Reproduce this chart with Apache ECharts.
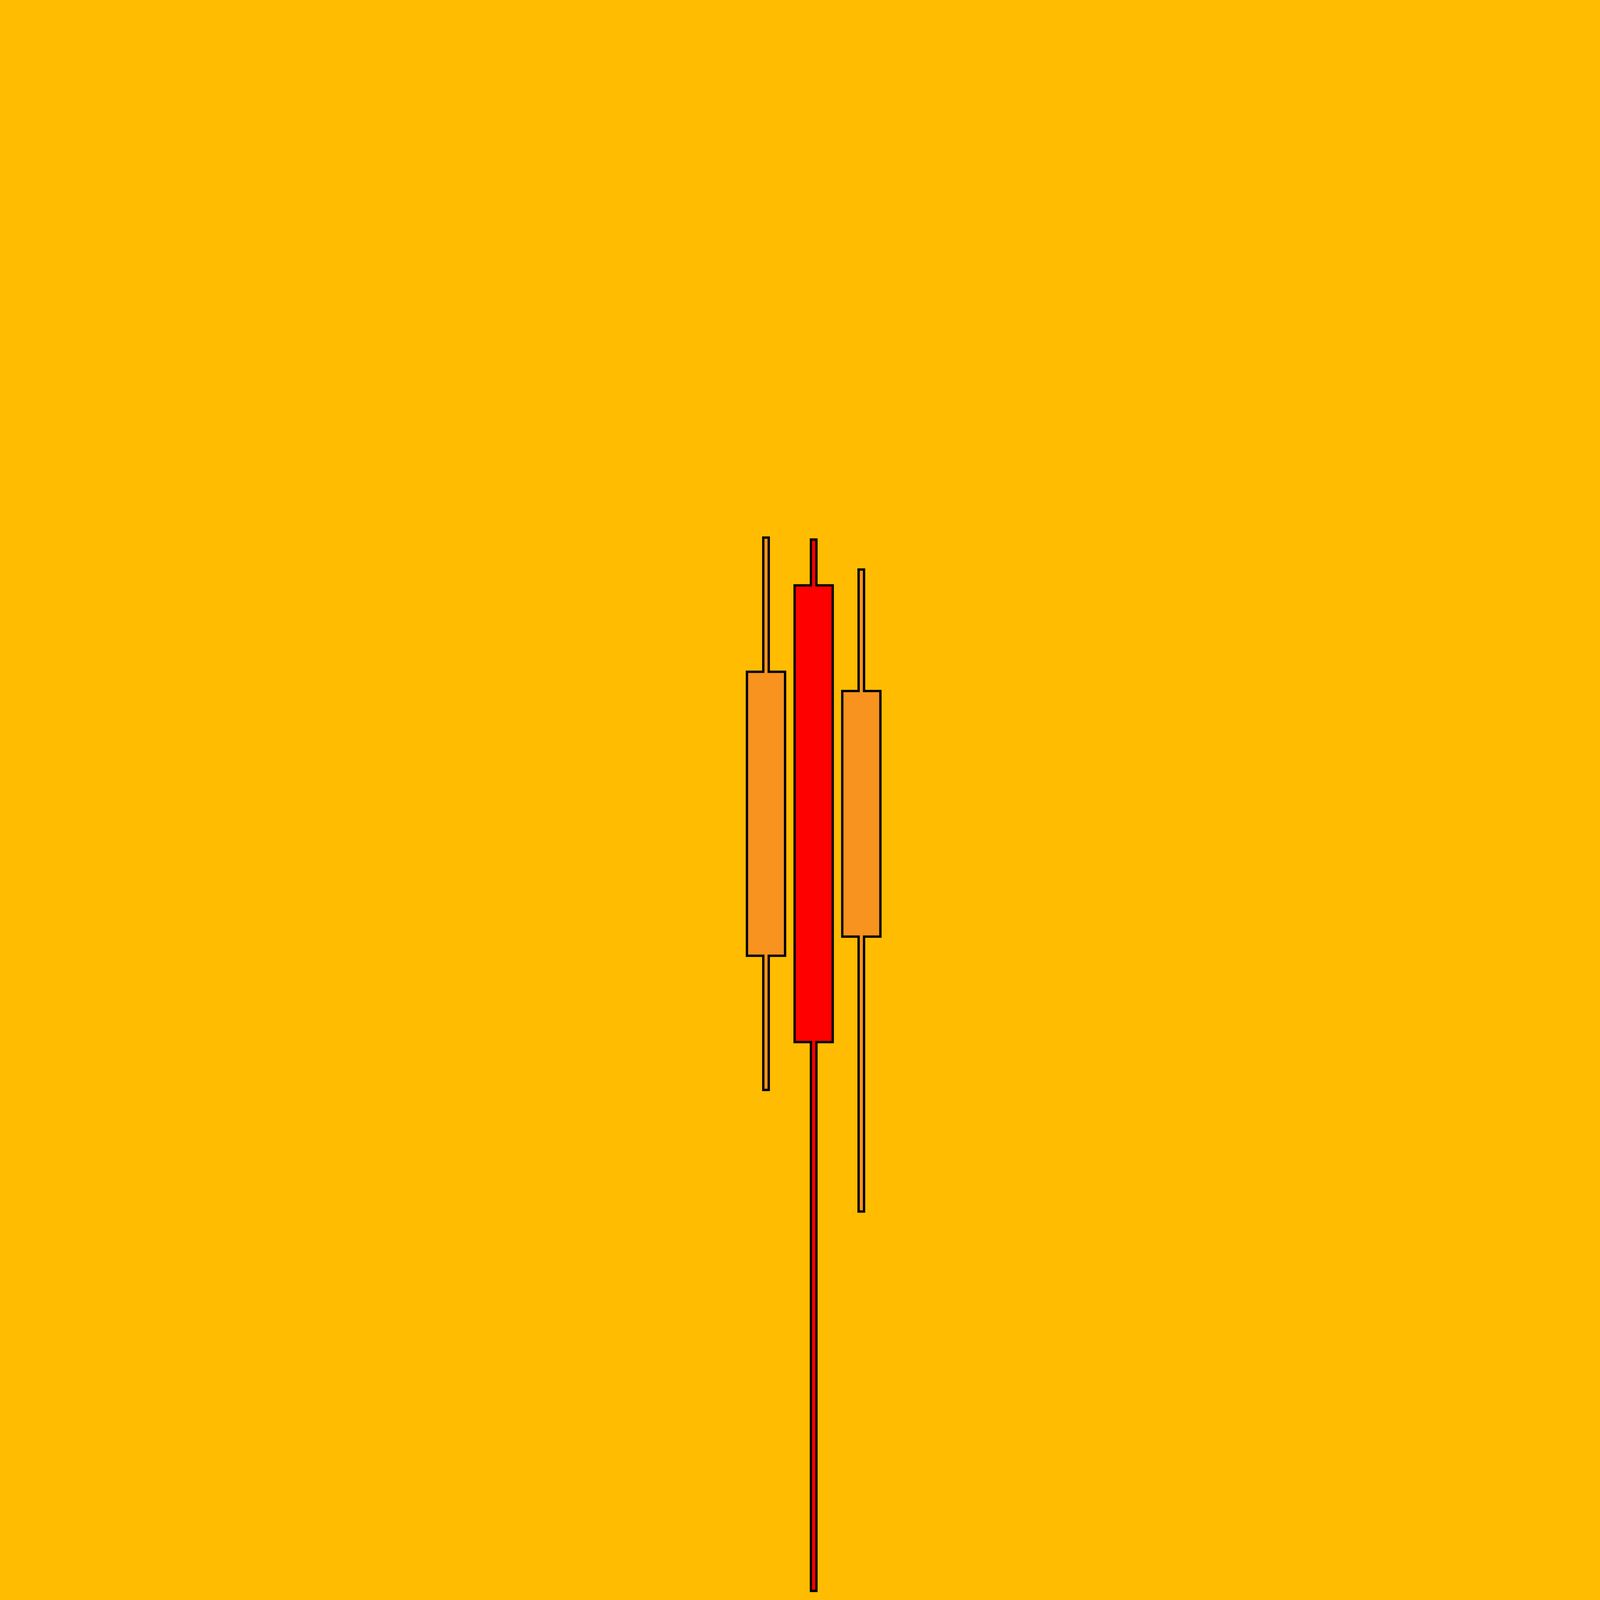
<!DOCTYPE html>
<html>
<head>
<meta charset="utf-8">
<script src="https://cdn.jsdelivr.net/npm/echarts@6/dist/echarts.min.js"></script>
<style>
html,body{margin:0;padding:0;background:#FFBC00;}
#chart{width:4167px;height:4167px;}
</style>
</head>
<body>
<div id="chart"></div>
<script>
const categories = ['A', 'B', 'C'];
const openValues  = [41.28, 64.04, 42.46];
const closeValues = [58.73, 35.98, 57.55];
const lowValues   = [33.04, 2.26, 25.57];
const highValues  = [66.97, 66.85, 65.01];

const upColor = '#F7931E';
const downColor = '#FF0000';

const data = categories.map((c, i) => [i, openValues[i], closeValues[i], lowValues[i], highValues[i]]);

const chart = echarts.init(document.getElementById('chart'), null, {renderer: 'canvas'});

function renderItem(params, api) {
  const idx = api.value(0);
  const open = api.value(1), close = api.value(2), low = api.value(3), high = api.value(4);
  const band = api.size([1, 0])[0];
  const hw = band * 0.8 / 2;
  const ww = band * 0.115 / 2;
  const pTop = api.coord([idx, Math.max(open, close)]);
  const pBot = api.coord([idx, Math.min(open, close)]);
  const pHigh = api.coord([idx, high]);
  const pLow = api.coord([idx, low]);
  const cx = pTop[0];
  const yT = pTop[1], yB = pBot[1], yH = pHigh[1], yL = pLow[1];
  const pts = [
    [cx - ww, yH], [cx + ww, yH], [cx + ww, yT], [cx + hw, yT],
    [cx + hw, yB], [cx + ww, yB], [cx + ww, yL], [cx - ww, yL],
    [cx - ww, yB], [cx - hw, yB], [cx - hw, yT], [cx - ww, yT]
  ];
  return {
    type: 'polygon',
    shape: {points: pts},
    style: {
      fill: close >= open ? upColor : downColor,
      stroke: '#000000',
      lineWidth: 6,
      lineJoin: 'miter'
    }
  };
}

chart.setOption({
  backgroundColor: '#FFBC00',
  animation: false,
  grid: {left: 1900, right: 1901, top: 0, bottom: 0},
  xAxis: {type: 'category', data: categories, show: false, boundaryGap: true},
  yAxis: {type: 'value', min: 0, max: 100, show: false, splitLine: {show: false}},
  series: [{
    type: 'custom',
    renderItem: renderItem,
    data: data,
    encode: {x: 0, y: [1, 2, 3, 4]}
  }]
});
</script>
</body>
</html>
